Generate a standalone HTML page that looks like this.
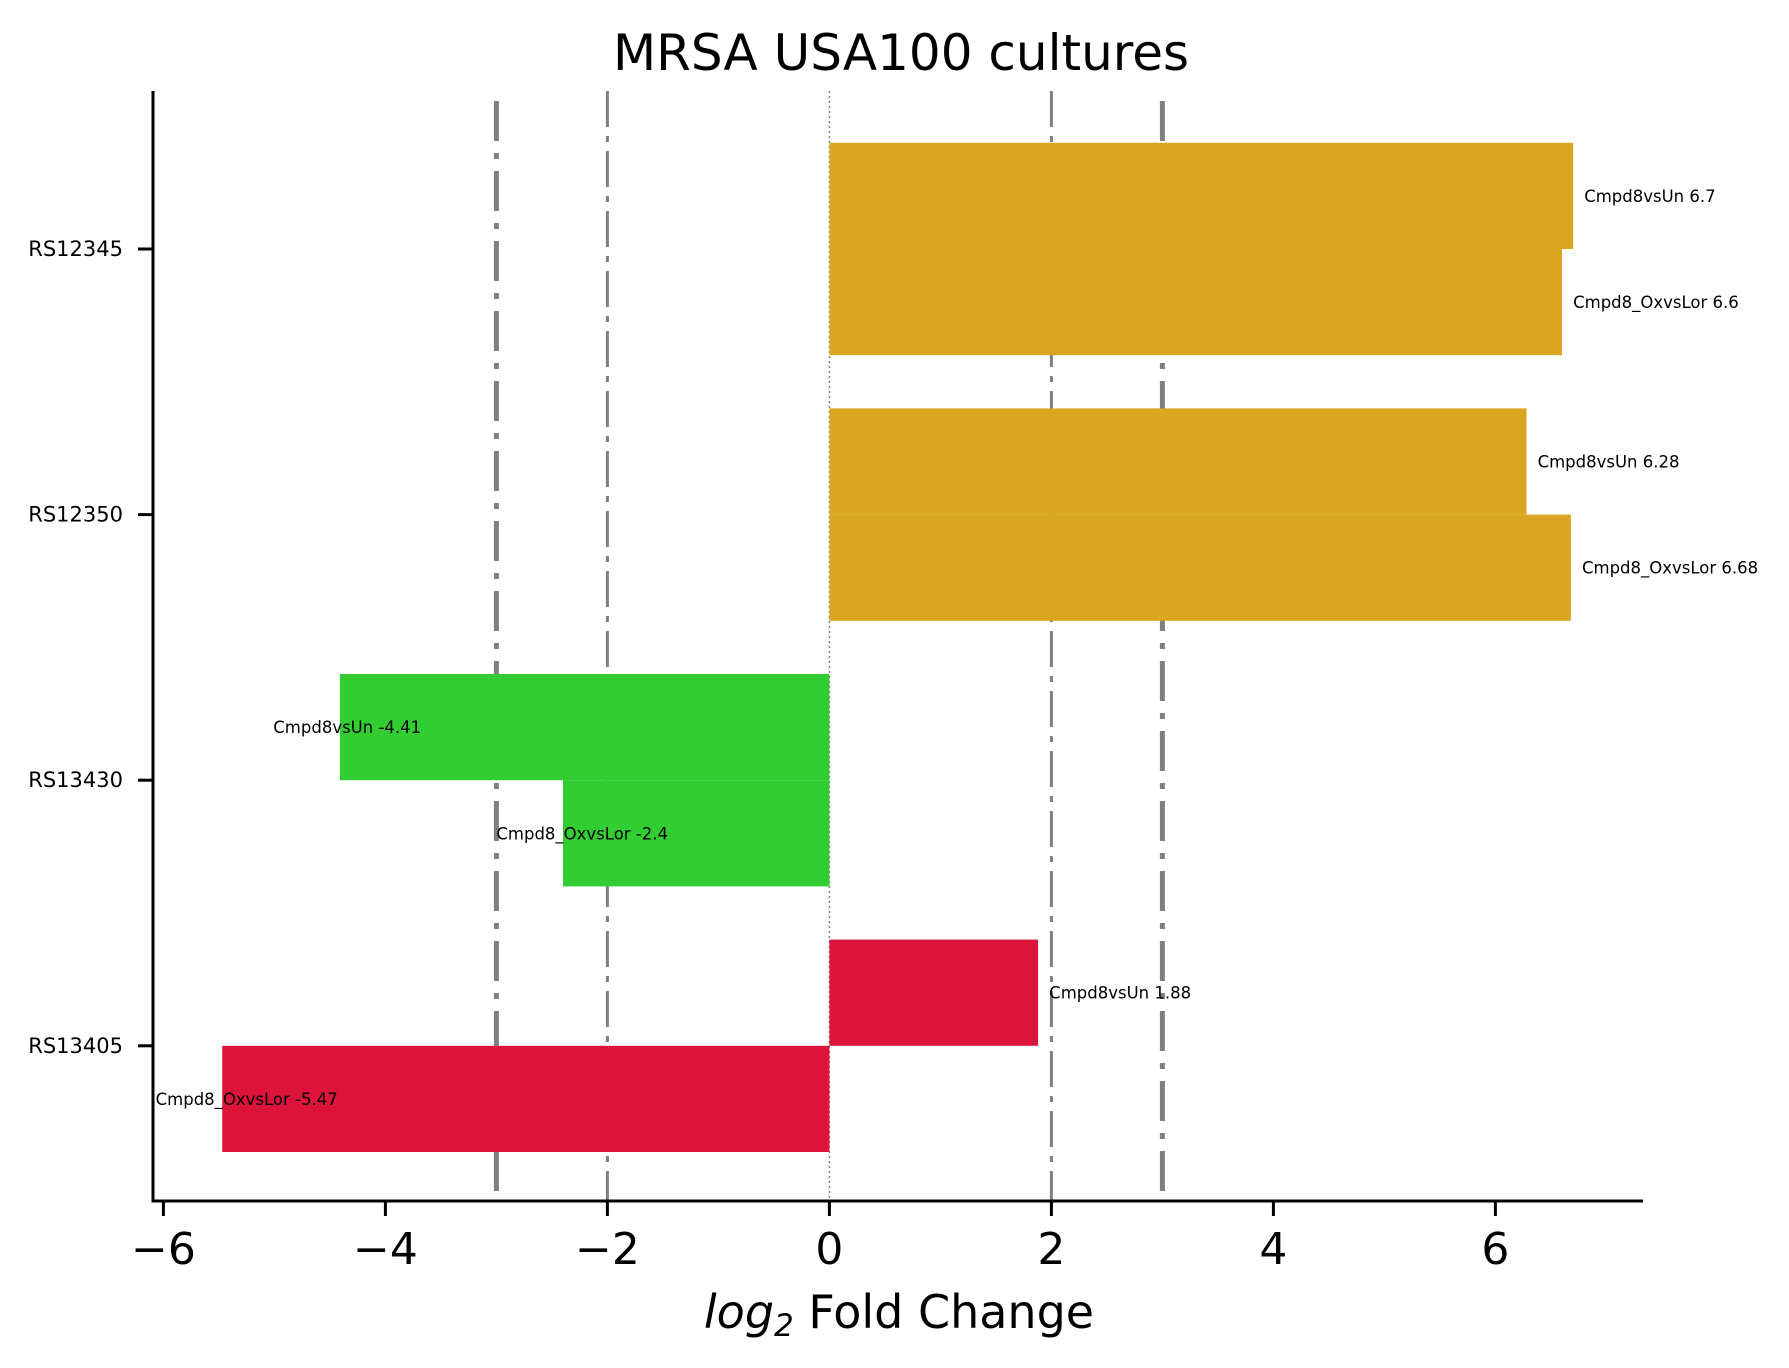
<!DOCTYPE html>
<html><head><meta charset="utf-8"><style>
html,body{margin:0;padding:0;background:#fff}
svg{display:block;font-family:"DejaVu Sans","Liberation Sans",sans-serif}
</style></head><body>
<svg id="chart" width="1789" height="1368" viewBox="0 0 1789 1368">
<text x="901" y="70" font-size="50" text-anchor="middle">MRSA USA100 cultures</text>
<g id="grid"></g>
<g id="bars"></g>
<g id="labels"></g>
<g id="axes"></g>
<text x="899" y="1328" font-size="46" text-anchor="middle"><tspan font-style="italic">log</tspan><tspan font-size="31" dy="8" font-style="italic">2</tspan><tspan dy="-8"> Fold Change</tspan></text>
</svg>
<script>
const categories = ["RS12345","RS12350","RS13430","RS13405"];
const seriesNames = ["Cmpd8vsUn","Cmpd8_OxvsLor"];
const cmpd8vsUn = [6.7, 6.28, -4.41, 1.88];
const cmpd8OxvsLor = [6.6, 6.68, -2.4, -5.47];
const catColors = ["#DAA520","#DAA520","#32CD32","#DC143C"];
const xTicks = [-6,-4,-2,0,2,4,6];
const thresholdsThick = [-3,3];
const thresholdsThin = [-2,2];

const NS="http://www.w3.org/2000/svg";
const X0=829.4, XS=111;
const x = v => X0 + v*XS;
const y = i => 249 + i*265.6;
const BH = 106.2;
const L=153, R=1643, T=91, B=1201;
function mk(tag, attrs, parent){const e=document.createElementNS(NS,tag);for(const k in attrs)e.setAttribute(k,attrs[k]);parent.appendChild(e);return e;}
const grid=document.getElementById('grid'), bars=document.getElementById('bars'), labels=document.getElementById('labels'), axes=document.getElementById('axes');

thresholdsThin.forEach(v=>{const l=mk('line',{x1:x(v),x2:x(v),y1:T,y2:B,stroke:'#808080','stroke-width':3,'stroke-dasharray':'36 9 6 9'},grid);

});
thresholdsThick.forEach(v=>{const l=mk('line',{x1:x(v),x2:x(v),y1:101,y2:B,stroke:'#808080','stroke-width':5,'stroke-dasharray':'40 12 6 12'},grid);

});
const z=mk('line',{x1:x(0),x2:x(0),y1:T,y2:B,stroke:'#808080','stroke-width':1.5,'stroke-dasharray':'2 3'},grid);



const series=[cmpd8vsUn,cmpd8OxvsLor];
series.forEach((vals,s)=>{vals.forEach((v,i)=>{
  const top = s===0 ? y(i)-BH : y(i);
  const r=mk('rect',{x:Math.min(x(0),x(v)),y:top,width:Math.abs(x(v)-x(0)),height:BH,fill:catColors[i]},bars);
  
  
  const lx = v>=0 ? x(v+0.1) : x(v-0.6);
  const t=mk('text',{x:lx,y:top+BH/2+6,'font-size':16.5,fill:'#000'},labels);
  t.textContent=seriesNames[s]+' '+v;
  
  
});});

const sp1=mk('line',{x1:L,x2:L,y1:T,y2:B+1.5,stroke:'#000','stroke-width':3},axes);


const sp2=mk('line',{x1:L-1.5,x2:R,y1:B,y2:B,stroke:'#000','stroke-width':3},axes);


xTicks.forEach(v=>{
  const tk=mk('line',{x1:x(v),x2:x(v),y1:B,y2:B+15,stroke:'#000','stroke-width':3},axes);
  
  
  const t=mk('text',{x:x(v),y:1264,'font-size':44,'text-anchor':'middle'},axes);
  t.textContent = v<0 ? '\u2212'+Math.abs(v) : String(v);
  
  
});
categories.forEach((c,i)=>{
  const tk=mk('line',{x1:L-15,x2:L,y1:y(i),y2:y(i),stroke:'#000','stroke-width':3},axes);
  
  
  const t=mk('text',{x:123,y:y(i)+7,'font-size':21,'text-anchor':'end'},axes);
  t.textContent=c;
  
  
});
</script>
</body></html>
